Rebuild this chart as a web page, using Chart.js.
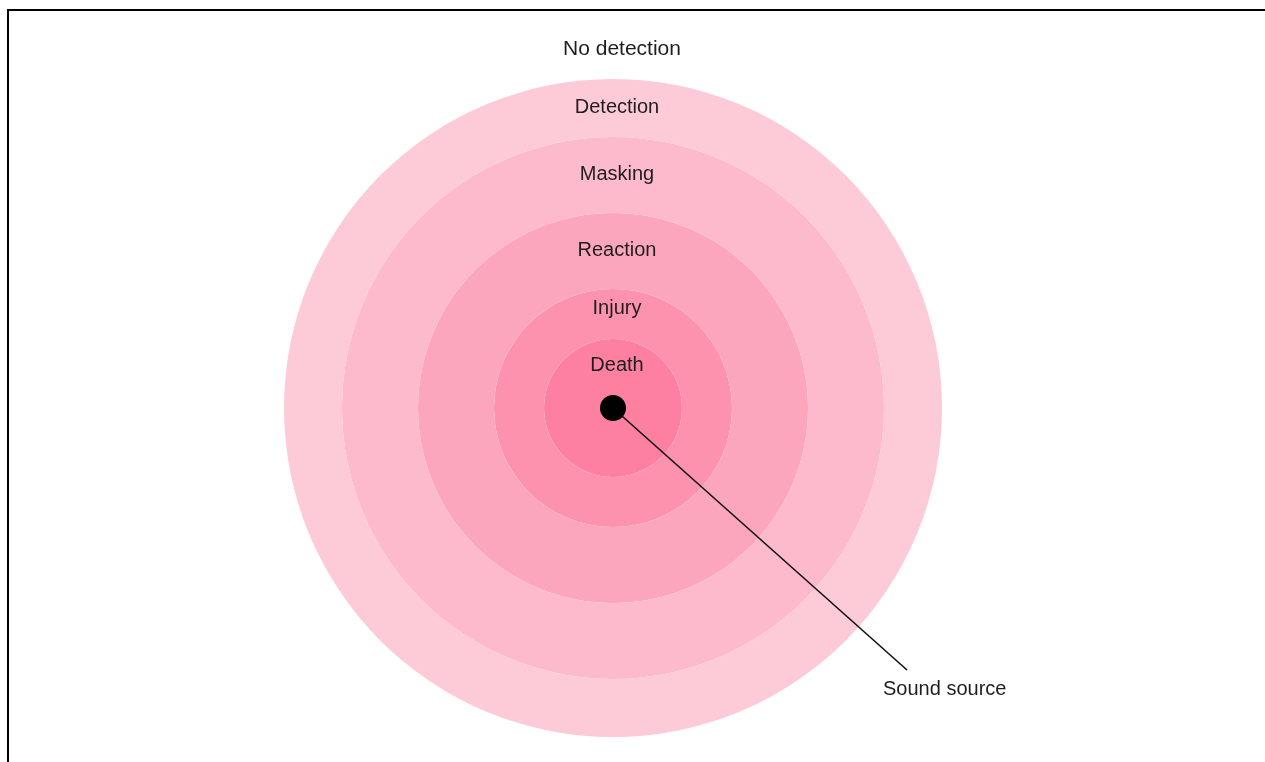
<!DOCTYPE html>
<html>
<head>
<meta charset="utf-8">
<script src="https://cdn.jsdelivr.net/npm/chart.js@4.4.1/dist/chart.umd.min.js"></script>
<style>
  body { margin: 0; background: #fff; }
  #wrap { position: relative; width: 1265px; height: 762px; overflow: hidden; }
  #frame { position: absolute; left: 7px; top: 9px; width: 1300px; height: 800px;
           border-top: 2px solid #000; border-left: 2px solid #000; }
  canvas { position: absolute; left: 0; top: 0; }
</style>
</head>
<body>
<div id="wrap">
  <div id="frame"></div>
  <canvas id="zones" width="1265" height="762"></canvas>
</div>
<script>
// impact zones around a sound source, outermost first
const zones = ['Detection', 'Masking', 'Reaction', 'Injury', 'Death'];
const zoneRadii = [329, 271, 195, 119, 69];
const zoneColors = ['#fdcbd7', '#fcbacc', '#fba6bc', '#fc92ad', '#fd80a0'];
const outsideLabel = 'No detection';
const sourceLabel = 'Sound source';

// ring thickness = difference between consecutive zone radii
const ringWeights = zoneRadii.map((r, i) => r - (zoneRadii[i + 1] || 0));

const font = '20px "Liberation Sans", Arial, sans-serif';

const zoneLabels = {
  id: 'zoneLabels',
  afterDraw(chart) {
    const c = chart.ctx;
    const first = chart.getDatasetMeta(0).data[0];
    const cx = first.x, cy = first.y;

    c.save();
    c.fillStyle = '#1e1e1e';
    c.textAlign = 'center';
    c.textBaseline = 'middle';

    c.font = '21px "Liberation Sans", Arial, sans-serif';
    c.fillText(outsideLabel, cx + 9, cy - first.outerRadius - 30);
    c.font = font;
    zones.forEach((name, i) => {
      const arc = chart.getDatasetMeta(i).data[0];
      const inner = arc.innerRadius, outer = arc.outerRadius;
      const frac = i >= 3 ? 0.63 : 0.52;
      c.fillText(name, cx + 4, cy + 1 - (inner + (outer - inner) * frac));
    });

    // pointer from the source to its label
    const endX = cx + 294, endY = cy + 262;
    c.strokeStyle = '#111';
    c.lineWidth = 1.6;
    c.beginPath();
    c.moveTo(cx, cy);
    c.lineTo(endX, endY);
    c.stroke();

    c.fillStyle = '#000';
    c.beginPath();
    c.arc(cx, cy, 13, 0, Math.PI * 2);
    c.fill();

    c.fillStyle = '#1e1e1e';
    c.textAlign = 'left';
    c.fillText(sourceLabel, endX - 24, endY + 19);
    c.restore();
  }
};

new Chart(document.getElementById('zones'), {
  type: 'doughnut',
  data: {
    labels: ['zone'],
    datasets: zones.map((name, i) => ({
      label: name,
      data: [1],
      weight: ringWeights[i],
      backgroundColor: zoneColors[i],
      borderWidth: 0,
      hoverOffset: 0,
      offset: 0
    }))
  },
  options: {
    responsive: false,
    animation: false,
    cutout: 0,
    radius: zoneRadii[0],
    layout: { padding: { top: 79, bottom: 25, left: 0, right: 39 } },
    plugins: {
      legend: { display: false },
      tooltip: { enabled: false }
    },
    events: []
  },
  plugins: [zoneLabels]
});
</script>
</body>
</html>
